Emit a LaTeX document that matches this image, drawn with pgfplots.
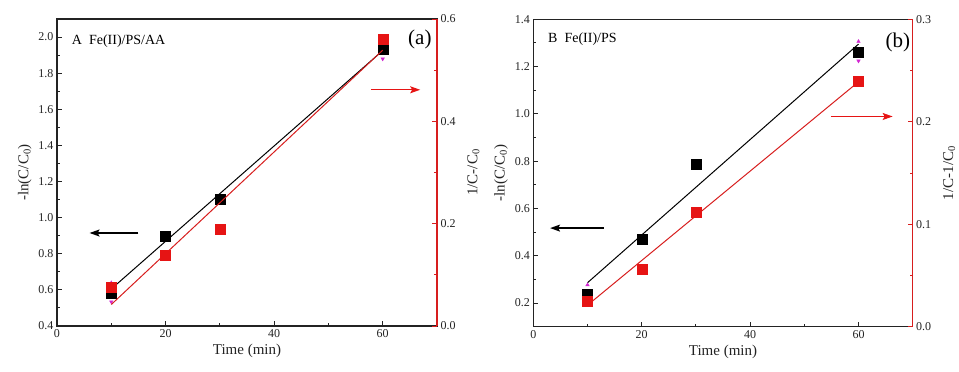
\documentclass[border=0pt]{standalone}
\usepackage{fontspec}
\setmainfont{Liberation Serif}
\usepackage{pgfplots}
\pgfplotsset{compat=1.18}
\usetikzlibrary{arrows.meta}
\definecolor{myred}{RGB}{230,20,20}
\definecolor{linered}{RGB}{215,30,30}
\definecolor{mymag}{RGB}{210,40,210}
\definecolor{axgray}{RGB}{35,35,35}
\tikzset{arr/.style={-{Stealth[length=10pt,width=7pt,inset=2pt]}, line width=1.3pt}}
\pgfplotsset{
  base/.style={scale only axis, xmin=0, xmax=70, xtick={0,20,40,60},
    minor x tick num=1, tick align=inside, major tick length=5pt, minor tick length=3pt,
    tick style={line width=0.9pt, axgray}, axis line style={line width=1.1pt},
    tick label style={font=\fontsize{12}{14}\selectfont, text=axgray},
    label style={font=\fontsize{15}{17}\selectfont, text=axgray},
    /pgf/number format/assume math mode=true, clip=false},
  yfix/.style={yticklabel style={/pgf/number format/.cd, fixed, fixed zerofill, precision=1}},
  sq/.style={only marks, mark=square*, mark size=5pt},
}
\begin{document}
\begin{tikzpicture}
\useasboundingbox (0,0) rectangle (959pt,372pt);
% ---------------- panel (a) ----------------
\begin{axis}[base, yfix, width=380pt, height=307pt, at={(57pt,46pt)}, anchor=south west,
  ymin=0.4, ymax=2.1, ytick={0.4,0.6,0.8,1.0,1.2,1.4,1.6,1.8,2.0}, minor y tick num=1,
  xtick pos=bottom, ytick pos=left, axis line style={axgray},
  xlabel={Time (min)}, ylabel={-ln(C/C\textsubscript{0})}]
\addplot[black, line width=1pt] coordinates {(10,0.605) (60,1.925)};
\addplot[sq, black] coordinates {(10,0.584) (20,0.900) (30,1.100) (60,1.934)};
\addplot[only marks, mark=triangle*, mark size=2pt, mymag] coordinates {(10,0.639)};
\addplot[only marks, mark=triangle*, mark size=2pt, mymag, mark options={rotate=180}] coordinates {(10,0.534) (60,1.879)};
\draw[arr, black] (axis cs:15,0.915) -- (axis cs:6,0.915);
\draw[arr, myred] (axis cs:57.8,1.708) -- (axis cs:66.9,1.708);
\node[anchor=west, font=\fontsize{14}{16}\selectfont] at (rel axis cs:0.03,0.929) {A\ \ Fe(II)/PS/AA};
\node[font=\fontsize{21}{24}\selectfont] at (rel axis cs:0.955,0.935) {(a)};
\end{axis}
\begin{axis}[base, yfix, width=380pt, height=307pt, at={(57pt,46pt)}, anchor=south west,
  ymin=0, ymax=0.6, ytick={0,0.2,0.4,0.6}, minor y tick num=1,
  axis x line=none, axis y line*=right, y axis line style={linered},
  every y tick/.append style={linered}, ylabel shift=5pt,
  ylabel={1/C-/C\textsubscript{0}}]
\addplot[linered, line width=1pt] coordinates {(10,0.042) (60,0.539)};
\addplot[sq, myred] coordinates {(10,0.0756) (20,0.138) (30,0.190) (60,0.561)};
\end{axis}
% ---------------- panel (b) ----------------
\begin{axis}[base, yfix, width=379.4pt, height=307.4pt, at={(533.3pt,45.3pt)}, anchor=south west,
  ymin=0.1, ymax=1.4, ytick={0.2,0.4,0.6,0.8,1.0,1.2,1.4}, minor y tick num=1,
  xtick pos=bottom, ytick pos=left, axis line style={axgray},
  xlabel={Time (min)}, ylabel={-ln(C/C\textsubscript{0})}]
\addplot[black, line width=1pt] coordinates {(10,0.286) (60,1.295)};
\addplot[sq, black] coordinates {(10,0.238) (20,0.471) (30,0.786) (60,1.261)};
\addplot[only marks, mark=triangle*, mark size=2pt, mymag] coordinates {(10,0.277) (60,1.306)};
\addplot[only marks, mark=triangle*, mark size=2pt, mymag, mark options={rotate=180}] coordinates {(60,1.224)};
\draw[arr, black] (axis cs:13.0,0.517) -- (axis cs:3.1,0.517);
\draw[arr, myred] (axis cs:54.9,0.989) -- (axis cs:66.3,0.989);
\node[anchor=west, font=\fontsize{14}{16}\selectfont] at (rel axis cs:0.03,0.935) {B\ \ Fe(II)/PS};
\node[font=\fontsize{21}{24}\selectfont] at (rel axis cs:0.961,0.926) {(b)};
\end{axis}
\begin{axis}[base, yfix, width=379.4pt, height=307.4pt, at={(533.3pt,45.3pt)}, anchor=south west,
  ymin=0, ymax=0.3, ytick={0,0.1,0.2,0.3}, minor y tick num=1,
  axis x line=none, axis y line*=right, y axis line style={linered},
  every y tick/.append style={linered}, ylabel shift=5pt,
  ylabel={1/C-1/C\textsubscript{0}}]
\addplot[linered, line width=1pt] coordinates {(10,0.021) (60,0.239)};
\addplot[sq, myred] coordinates {(10,0.0244) (20,0.0563) (30,0.112) (60,0.240)};
\end{axis}
\end{tikzpicture}
\end{document}
